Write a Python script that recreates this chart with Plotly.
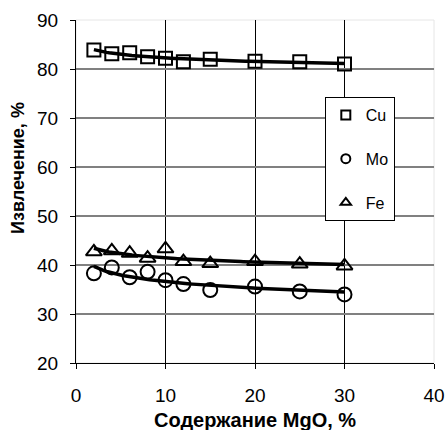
import numpy as np
import plotly.graph_objects as go

mgo = [2, 4, 6, 8, 10, 12, 15, 20, 25, 30]
cu = [83.9, 83.1, 83.3, 82.5, 82.2, 81.5, 82.0, 81.6, 81.5, 81.0]
mo = [38.3, 39.5, 37.5, 38.6, 36.9, 36.1, 34.9, 35.6, 34.6, 34.0]
fe = [42.7, 42.9, 42.4, 41.4, 43.3, 40.7, 40.3, 40.7, 40.2, 39.8]

series = [
    ("Cu", cu, "square-open", 13),
    ("Mo", mo, "circle-open", 14),
    ("Fe", fe, "triangle-up-open", 14),
]

FONT = "Arial, Liberation Sans, sans-serif"
fig = go.Figure()

xs = np.linspace(min(mgo), max(mgo), 100)
for name, vals, sym, sz in series:
    b, a = np.polyfit(np.log(mgo), vals, 1)
    fig.add_trace(go.Scatter(
        x=xs, y=a + b * np.log(xs), mode="lines",
        line=dict(color="black", width=3.5), showlegend=False, hoverinfo="skip"))
for name, vals, sym, sz in series:
    fig.add_trace(go.Scatter(
        x=mgo, y=vals, mode="markers", name=name, legendgroup=name, showlegend=False,
        marker=dict(symbol=sym, size=sz, color="black", line=dict(color="black", width=2))))
    # legend entry with the small symbol used in the legend box
    fig.add_trace(go.Scatter(
        x=[None], y=[None], mode="markers", name=name, legendgroup=name,
        marker=dict(symbol=sym, size=9, color="black", line=dict(color="black", width=2))))

# overlay axes carrying only the inner gridlines
fig.add_trace(go.Scatter(x=[None], y=[None], xaxis="x2", yaxis="y2", showlegend=False))

fig.update_layout(
    width=447, height=430,
    margin=dict(l=76, r=13, t=20, b=67),
    paper_bgcolor="white", plot_bgcolor="white",
    font=dict(family=FONT, size=19, color="black"),
    showlegend=True,
    legend=dict(
        x=0.695, y=0.7755, xanchor="left", yanchor="top",
        bgcolor="white", bordercolor="black", borderwidth=1,
        font=dict(size=16), itemwidth=30, tracegroupgap=20,
        traceorder="grouped",
    ),
    xaxis=dict(
        range=[0, 40], tickvals=[0, 10, 20, 30, 40], showgrid=False, zeroline=False,
        showline=True, linecolor="black", linewidth=1, ticks="outside", ticklen=5,
        tickcolor="black", tickfont=dict(size=19), automargin=False,
        ticklabelstandoff=10,
    ),
    yaxis=dict(
        range=[20, 90], tickvals=[20, 30, 40, 50, 60, 70, 80, 90], showgrid=False,
        zeroline=False, showline=True, linecolor="black", linewidth=1, ticks="outside",
        ticklen=5, tickcolor="black", tickfont=dict(size=19), automargin=False,
        ticklabelstandoff=8,
    ),
    xaxis2=dict(
        overlaying="x", matches="x", range=[0, 40], tickvals=[10, 20, 30],
        showgrid=True, gridcolor="black", gridwidth=1, showticklabels=False,
        ticks="", zeroline=False, showline=False, side="bottom", layer="below traces",
        automargin=False,
    ),
    yaxis2=dict(
        overlaying="y", matches="y", range=[20, 90], tickvals=[30, 40, 50, 60, 70, 80],
        showgrid=True, gridcolor="#808080", gridwidth=2, showticklabels=False,
        ticks="", zeroline=False, showline=False, side="left", layer="below traces",
        automargin=False,
    ),
    shapes=[dict(type="rect", xref="paper", yref="paper", x0=0, x1=1, y0=0, y1=1,
                 line=dict(color="#e6e6e6", width=1), layer="below")],
    annotations=[
        dict(text="<b>Содержание MgO, %</b>", xref="paper", yref="paper",
             x=0.5, y=-0.166, xanchor="center", yanchor="middle", showarrow=False,
             font=dict(size=20)),
        dict(text="<b>Извлечение, %</b>", xref="paper", yref="paper",
             x=-0.162, y=0.5685, xanchor="center", yanchor="middle", showarrow=False,
             textangle=-90, font=dict(size=18)),
    ],
)

fig.write_html("out.html")
